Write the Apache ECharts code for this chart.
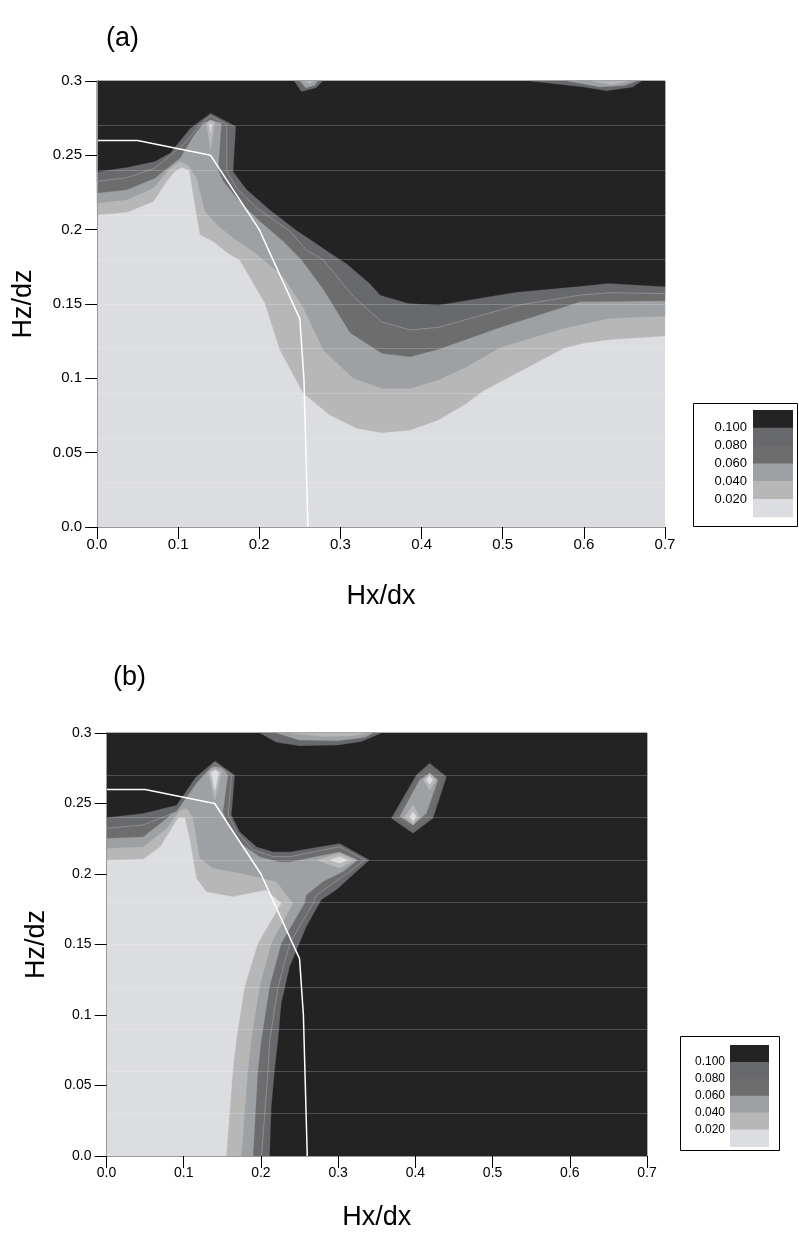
<!DOCTYPE html>
<html>
<head>
<meta charset="utf-8">
<title>Hz/dz - Hx/dx contour maps</title>
<script src="https://cdn.jsdelivr.net/npm/echarts@6/dist/echarts.min.js"></script>
<style>html,body{margin:0;padding:0;background:#fff}#main{width:799px;height:1236px}</style>
</head>
<body>
<div id="main"></div>
<script>
// contour levels and band colours (lowest band first)
var levels = [0.02, 0.04, 0.06, 0.08, 0.10];
var bandColors = ['#dcdde0', '#b7b7b7', '#9ea1a4', '#6d6d6d', '#68696d', '#232323'];
var xTicks = [0, 0.7, 0.1];       // min, max, step
var zTicks = [0, 0.3, 0.05];
var meshStep = 0.03;              // faint horizontal mesh lines
var whiteLine = [[0, 0.26], [0.05, 0.26], [0.14, 0.25], [0.2, 0.2], [0.25, 0.14], [0.255, 0.1], [0.26, 0]];

// panel (a): level boundaries, left edge -> right edge
var a_f02 = [[0,0.210],[0.0366,0.2117],[0.0694,0.219],[0.0859,0.2325],[0.0961,0.2393],[0.1044,0.242],[0.1138,0.2397],[0.1229,0.210],[0.127,0.1966],[0.1433,0.192],[0.162,0.184],[0.176,0.1796],[0.207,0.1505],[0.2255,0.119],[0.2543,0.0899],[0.287,0.0753],[0.320,0.0664],[0.351,0.0634],[0.386,0.0652],[0.4206,0.072],[0.4556,0.0832],[0.474,0.091],[0.575,0.1202],[0.599,0.1236],[0.632,0.1262],[0.7,0.1285]];
var a_f04 = [[0,0.218],[0.037,0.2202],[0.0694,0.228],[0.090,0.2415],[0.1023,0.246],[0.113,0.243],[0.1229,0.2348],[0.1331,0.2124],[0.1475,0.2034],[0.168,0.1944],[0.196,0.184],[0.2296,0.1684],[0.254,0.148],[0.279,0.119],[0.316,0.100],[0.351,0.0933],[0.386,0.0933],[0.4206,0.0989],[0.4556,0.1078],[0.497,0.1209],[0.575,0.1337],[0.632,0.1404],[0.7,0.1419]];
var a_f06 = [[0,0.2247],[0.037,0.2269],[0.0715,0.2348],[0.1023,0.2482],[0.1187,0.2628],[0.131,0.2717],[0.140,0.274],[0.1537,0.2717],[0.1495,0.2403],[0.1557,0.2325],[0.176,0.219],[0.2009,0.2056],[0.2296,0.1922],[0.2523,0.1796],[0.279,0.16],[0.312,0.1307],[0.351,0.1168],[0.386,0.1146],[0.4206,0.1195],[0.497,0.1343],[0.575,0.148],[0.595,0.1515],[0.7,0.1522]];
var a_f08 = [[0,0.2325],[0.037,0.235],[0.0715,0.2415],[0.1064,0.2572],[0.127,0.2706],[0.140,0.2766],[0.160,0.2706],[0.160,0.2393],[0.172,0.228],[0.1968,0.2146],[0.238,0.199],[0.258,0.1863],[0.279,0.1796],[0.316,0.155],[0.351,0.138],[0.386,0.1325],[0.4206,0.1343],[0.517,0.149],[0.595,0.156],[0.632,0.1576],[0.7,0.157]];
var a_f10 = [[0,0.239],[0.037,0.242],[0.0715,0.246],[0.09,0.2516],[0.1146,0.268],[0.140,0.2785],[0.1713,0.2695],[0.168,0.239],[0.1845,0.227],[0.213,0.2134],[0.245,0.200],[0.283,0.186],[0.3077,0.177],[0.336,0.164],[0.349,0.156],[0.3837,0.1505],[0.4206,0.1493],[0.517,0.158],[0.595,0.162],[0.630,0.164],[0.7,0.1617]];

// panel (a): low-value islands [band, outline]
var a_spike1 = [[0.135,0.272],[0.140,0.2735],[0.145,0.272],[0.140,0.254]];
var a_spike0 = [[0.1385,0.2712],[0.1415,0.2712],[0.140,0.265]];
var a_top4 = [[0.243,0.3],[0.252,0.293],[0.27,0.2955],[0.278,0.3]];
var a_top2 = [[0.25,0.3],[0.257,0.2955],[0.268,0.297],[0.272,0.3]];
var a_top1 = [[0.256,0.3],[0.262,0.298],[0.267,0.3]];
var a_right4 = [[0.534,0.3],[0.6,0.296],[0.628,0.2935],[0.66,0.296],[0.671,0.3]];
var a_right2 = [[0.58,0.3],[0.62,0.296],[0.65,0.297],[0.665,0.3]];
var a_right1 = [[0.61,0.3],[0.635,0.2975],[0.655,0.3]];

// panel (b): level boundaries, left edge -> bottom edge
var b_f02 = [[0,0.2099],[0.0476,0.2106],[0.0692,0.2194],[0.0929,0.240],[0.1016,0.240],[0.108,0.225],[0.1167,0.197],[0.1296,0.1875],[0.164,0.184],[0.19,0.187],[0.2073,0.1887],[0.2266,0.1792],[0.1964,0.1508],[0.1792,0.12],[0.1684,0.0823],[0.164,0.061],[0.1555,0]];
var b_f04 = [[0,0.2182],[0.0476,0.2194],[0.0779,0.2324],[0.0951,0.2454],[0.1038,0.2466],[0.112,0.240],[0.121,0.2111],[0.1382,0.204],[0.164,0.2016],[0.1943,0.198],[0.2202,0.1945],[0.2417,0.1792],[0.2137,0.1508],[0.1986,0.12],[0.1878,0.0823],[0.1835,0.061],[0.1749,0]];
var b_f06 = [[0,0.2253],[0.0476,0.2265],[0.0779,0.2395],[0.1038,0.2548],[0.121,0.2679],[0.134,0.275],[0.1404,0.2766],[0.151,0.275],[0.1576,0.2702],[0.151,0.2442],[0.1576,0.2348],[0.177,0.2206],[0.1986,0.2123],[0.2245,0.2087],[0.2374,0.2087],[0.302,0.2158],[0.3258,0.210],[0.3064,0.2016],[0.2805,0.1945],[0.259,0.1851],[0.2568,0.1792],[0.2266,0.1508],[0.2115,0.12],[0.2008,0.0823],[0.1964,0.061],[0.19,0]];
var b_f08 = [[0,0.2324],[0.0476,0.2348],[0.0908,0.2442],[0.1167,0.2643],[0.1404,0.2785],[0.162,0.2702],[0.1576,0.2418],[0.1684,0.230],[0.19,0.217],[0.2158,0.2123],[0.2374,0.2123],[0.302,0.2194],[0.3345,0.21],[0.315,0.2016],[0.272,0.1851],[0.2676,0.1792],[0.2374,0.1508],[0.2223,0.12],[0.2115,0.0823],[0.2093,0.061],[0.2008,0]];
var b_f10 = [[0,0.240],[0.0476,0.243],[0.0908,0.249],[0.1145,0.268],[0.1404,0.2804],[0.1663,0.2702],[0.162,0.2418],[0.1727,0.230],[0.1943,0.2194],[0.2158,0.2158],[0.2374,0.2158],[0.302,0.2218],[0.341,0.210],[0.3237,0.2016],[0.2978,0.1887],[0.2784,0.1816],[0.259,0.1626],[0.2374,0.1343],[0.2266,0.1083],[0.2223,0.0823],[0.218,0.061],[0.2137,0.035],[0.2115,0]];

// panel (b): low-value islands
var b_spike1 = [[0.132,0.2725],[0.1404,0.275],[0.149,0.2725],[0.1404,0.2525]];
var b_spike0 = [[0.1355,0.272],[0.1404,0.2735],[0.1455,0.272],[0.1404,0.259]];
var b_blob1 = [[0.272,0.21],[0.302,0.2147],[0.3215,0.21],[0.302,0.204]];
var b_blob0 = [[0.289,0.21],[0.302,0.2123],[0.3129,0.21],[0.302,0.2076]];
var b_isl4 = [[0.4185,0.2785],[0.4402,0.269],[0.4228,0.2395],[0.397,0.2289],[0.369,0.2395],[0.4013,0.2702]];
var b_isl3 = [[0.4185,0.275],[0.436,0.268],[0.4205,0.2405],[0.397,0.2315],[0.373,0.2395],[0.4025,0.269]];
var b_isl2 = [[0.4185,0.2714],[0.4293,0.2667],[0.4142,0.243],[0.397,0.2348],[0.3797,0.2407],[0.4056,0.2667]];
var b_isl1t = [[0.4185,0.2714],[0.4271,0.2667],[0.4185,0.2596],[0.41,0.2667]];
var b_isl1b = [[0.397,0.2489],[0.4056,0.2407],[0.397,0.2348],[0.3862,0.2407]];
var b_isl0t = [[0.4185,0.2695],[0.4228,0.2667],[0.4185,0.2635],[0.4142,0.2667]];
var b_isl0b = [[0.397,0.2442],[0.4013,0.2407],[0.397,0.2372],[0.3927,0.2407]];
var b_top4 = [[0.1986,0.3],[0.22,0.2935],[0.25,0.291],[0.30,0.2915],[0.33,0.294],[0.356,0.3]];
var b_top2 = [[0.22,0.3],[0.25,0.295],[0.30,0.2945],[0.335,0.297],[0.345,0.3]];
var b_top1 = [[0.24,0.3],[0.28,0.2975],[0.32,0.298],[0.335,0.3]];

var aPaths = [a_f02, a_f04, a_f06, a_f08, a_f10];
var bPaths = [b_f02, b_f04, b_f06, b_f08, b_f10];
var aIslands = [[4, a_top4], [2, a_top2], [1, a_top1], [4, a_right4], [2, a_right2], [1, a_right1], [1, a_spike1], [0, a_spike0]];
var bIslands = [[4, b_top4], [2, b_top2], [1, b_top1], [4, b_isl4], [3, b_isl3], [2, b_isl2], [1, b_isl1t], [1, b_isl1b], [0, b_isl0t], [0, b_isl0b],
                [1, b_blob1], [0, b_blob0], [1, b_spike1], [0, b_spike0]];

function buildShapes(paths, closing, islands) {
  var shapes = [];
  paths.forEach(function (p, k) {
    shapes.push({ band: k + 1, pts: p.concat(closing) });
    if (k === 3) shapes.push({ line: true, pts: p });   // thin contour line at 0.08
  });
  islands.forEach(function (it) { shapes.push({ band: it[0], pts: it[1] }); });
  return shapes;
}
var aShapes = buildShapes(aPaths, [[0.7, 0.3], [0, 0.3]], aIslands);
var bShapes = buildShapes(bPaths, [[0.7, 0], [0.7, 0.3], [0, 0.3]], bIslands);

function contourSeries(g, shapes) {
  return {
    type: 'custom', coordinateSystem: 'cartesian2d',
    xAxisIndex: g * 2, yAxisIndex: g * 3, silent: true, z: 2,
    data: shapes.map(function () { return [0, 0]; }),
    renderItem: function (params, api) {
      var s = shapes[params.dataIndex];
      var pts = s.pts.map(function (p) { return api.coord(p); });
      if (s.line) {
        return { type: 'polyline', shape: { points: pts }, style: { fill: null, stroke: 'rgba(160,162,166,0.8)', lineWidth: 0.8 } };
      }
      return { type: 'polygon', shape: { points: pts }, style: { fill: bandColors[s.band], stroke: bandColors[s.band], lineWidth: 0.3 } };
    }
  };
}

var font = 'Liberation Sans';
function zFmt(v) { return v === 0 ? '0.0' : String(+v.toFixed(2)); }

function panelAxes(g, fs, nameGapX, nameGapY) {
  var base = { gridIndex: g, type: 'value', min: xTicks[0], max: xTicks[1], interval: xTicks[2], z: 5, splitLine: { show: false } };
  var xs = [
    Object.assign({}, base, {
      position: 'bottom', name: 'Hx/dx', nameLocation: 'middle', nameGap: nameGapX,
      nameTextStyle: { fontFamily: font, fontSize: 27, color: '#000' },
      axisLine: { show: true, lineStyle: { color: '#222', width: 1 } },
      axisTick: { show: true, inside: false, length: 10, lineStyle: { color: '#222' } },
      axisLabel: { show: true, margin: 10, fontFamily: font, fontSize: fs, color: '#000', formatter: function (v) { return v.toFixed(1); } }
    }),
    Object.assign({}, base, {
      position: 'top',
      axisLine: { show: true, lineStyle: { color: '#999', width: 1 } },
      axisTick: { show: true, inside: true, length: 12, lineStyle: { color: '#000' } },
      axisLabel: { show: false }
    })
  ];
  var ybase = { gridIndex: g, type: 'value', min: zTicks[0], max: zTicks[1], interval: zTicks[2], z: 5, splitLine: { show: false } };
  var ys = [
    Object.assign({}, ybase, {
      position: 'left', name: 'Hz/dz', nameLocation: 'middle', nameGap: nameGapY,
      nameTextStyle: { fontFamily: font, fontSize: 27, color: '#000' },
      axisLine: { show: true, lineStyle: { color: '#222', width: 1 } },
      axisTick: { show: true, inside: false, length: 12, lineStyle: { color: '#222' } },
      axisLabel: { show: true, margin: 15, fontFamily: font, fontSize: fs, color: '#000', formatter: zFmt }
    }),
    Object.assign({}, ybase, {
      position: 'right',
      axisLine: { show: true, lineStyle: { color: '#999', width: 1 } },
      axisTick: { show: true, inside: true, length: 10, lineStyle: { color: '#000' } },
      axisLabel: { show: false }
    }),
    { gridIndex: g, type: 'value', min: zTicks[0], max: zTicks[1], interval: meshStep, z: 3,
      axisLine: { show: false }, axisTick: { show: false }, axisLabel: { show: false },
      splitLine: { show: true, showMinLine: false, showMaxLine: false, lineStyle: { color: 'rgba(255,255,255,0.2)', width: 1 } } }
  ];
  return { x: xs, y: ys };
}
var axA = panelAxes(0, 15, 56, 60);
var axB = panelAxes(1, 14, 48, 56);

function legendGraphics(box, sw, rowH, labelX, fs) {
  var els = [{ type: 'rect', shape: box, style: { fill: '#fff', stroke: '#000', lineWidth: 1 }, z: 10 }];
  var n = bandColors.length;
  for (var i = 0; i < n; i++) {
    els.push({ type: 'rect', shape: { x: sw.x, y: sw.y + i * rowH, width: sw.w, height: rowH + 0.5 },
      style: { fill: bandColors[n - 1 - i] }, z: 11 });
  }
  levels.slice().reverse().forEach(function (lv, i) {
    els.push({ type: 'text', x: labelX, y: sw.y + (i + 1) * rowH,
      style: { text: lv.toFixed(3), fontFamily: font, fontSize: fs, fill: '#000', align: 'right', verticalAlign: 'middle' }, z: 11 });
  });
  return els;
}

var chart = echarts.init(document.getElementById('main'), null, { renderer: 'canvas' });
chart.setOption({
  backgroundColor: '#fff',
  animation: false,
  title: [
    { text: '(a)', left: 101, top: 20, textStyle: { fontFamily: font, fontSize: 27, fontWeight: 'normal', color: '#000' } },
    { text: '(b)', left: 108, top: 659, textStyle: { fontFamily: font, fontSize: 27, fontWeight: 'normal', color: '#000' } }
  ],
  grid: [
    { left: 97, top: 81, width: 568, height: 446, show: true, backgroundColor: bandColors[0], borderWidth: 0 },
    { left: 106.5, top: 733, width: 540.5, height: 423, show: true, backgroundColor: bandColors[0], borderWidth: 0 }
  ],
  xAxis: axA.x.concat(axB.x),
  yAxis: axA.y.concat(axB.y),
  series: [
    contourSeries(0, aShapes),
    contourSeries(1, bShapes),
    { type: 'line', xAxisIndex: 0, yAxisIndex: 0, data: whiteLine, showSymbol: false, silent: true, z: 4,
      lineStyle: { color: '#fff', width: 1.5 } },
    { type: 'line', xAxisIndex: 2, yAxisIndex: 3, data: whiteLine, showSymbol: false, silent: true, z: 4,
      lineStyle: { color: '#fff', width: 1.5 } }
  ],
  graphic: legendGraphics({ x: 693.5, y: 403.5, width: 104, height: 123 }, { x: 753, y: 410, w: 40 }, 17.8, 747, 13)
    .concat(legendGraphics({ x: 680.5, y: 1036.5, width: 99, height: 114 }, { x: 730, y: 1045, w: 39 }, 16.9, 725, 12))
});
</script>
</body>
</html>
